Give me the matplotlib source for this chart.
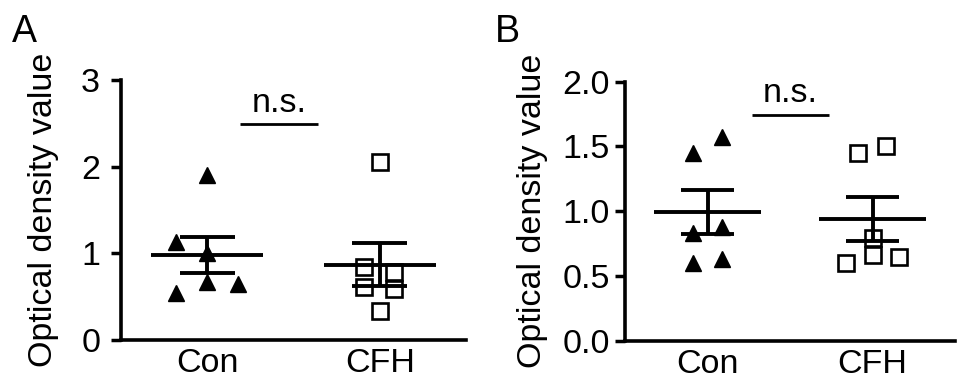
import numpy as np
import matplotlib
matplotlib.use("Agg")
import matplotlib.pyplot as plt

plt.rcParams['font.family'] = ['Liberation Sans', 'DejaVu Sans']

categories = ["Con", "CFH"]

# Panel A values
a_con = [1.90, 1.13, 1.00, 0.67, 0.65, 0.54]
a_cfh = [2.05, 0.84, 0.78, 0.61, 0.59, 0.33]
# Panel B values
b_con = [1.45, 1.57, 0.83, 0.88, 0.60, 0.63]
b_cfh = [1.45, 1.50, 0.79, 0.66, 0.60, 0.65]

# horizontal jitter of the points (as drawn)
a_con_jit = [0.0, -0.18, 0.0, 0.0, 0.18, -0.18]
a_cfh_jit = [0.0, -0.09, 0.08, -0.09, 0.08, 0.0]
b_con_jit = [-0.09, 0.09, -0.09, 0.09, -0.09, 0.09]
b_cfh_jit = [-0.085, 0.08, 0.0, 0.0, -0.16, 0.16]

a_yticks = [0, 1, 2, 3]
a_yticklabels = ["0", "1", "2", "3"]
b_yticks = [0.0, 0.5, 1.0, 1.5, 2.0]
b_yticklabels = ["0.0", "0.5", "1.0", "1.5", "2.0"]

fig = plt.figure(figsize=(9.69, 3.92), dpi=100)
axA = fig.add_axes([121/969, 52/392, 345/969, 260/392])
axB = fig.add_axes([625/969, 51.3/392, 330/969, 259/392])

FS = 24.5

def draw(ax, con, cfh, conj, cfhj, ylim, yticks, ytl, nsy, nsx0, nsx1, nstexty,
         ypad, lpad):
    groups = [(con, conj, '^', 'black'), (cfh, cfhj, 's', 'none')]
    for i, (vals, jit, mk, fc) in enumerate(groups):
        vals = np.array(vals)
        xs = i + np.array(jit)
        ax.plot(xs, vals, linestyle='none', marker=mk, markersize=12 if mk == '^' else 11,
                markerfacecolor=fc, markeredgecolor='black',
                markeredgewidth=1.0 if mk == '^' else 1.9, zorder=3, clip_on=False)
        m = vals.mean()
        sem = vals.std(ddof=1) / np.sqrt(len(vals))
        ax.hlines(m, i - 0.325, i + 0.325, color='black', lw=2.8, zorder=4)
        ax.vlines(i, m - sem, m + sem, color='black', lw=2.8, zorder=4)
        ax.hlines([m - sem, m + sem], i - 0.16, i + 0.16, color='black', lw=2.8, zorder=4)
    ax.hlines(nsy, nsx0, nsx1, color='black', lw=2.0)
    ax.text((nsx0 + nsx1) / 2, nstexty, "n.s.", ha='center', va='bottom', fontsize=FS)
    ax.set_xlim(-0.5, 1.5)
    ax.set_ylim(*ylim)
    ax.set_xticks([0, 1])
    ax.set_xticklabels(categories, fontsize=FS)
    ax.set_yticks(yticks)
    ax.set_yticklabels(ytl, fontsize=FS)
    ax.tick_params(axis='x', length=0, pad=6)
    ax.tick_params(axis='y', length=7, width=2.5, pad=ypad, direction='out')
    for s in ['top', 'right']:
        ax.spines[s].set_visible(False)
    for s in ['left', 'bottom']:
        ax.spines[s].set_linewidth(2.6)
    ax.set_ylabel("Optical density value", fontsize=FS, labelpad=lpad)

draw(axA, a_con, a_cfh, a_con_jit, a_cfh_jit, (0, 3), a_yticks, a_yticklabels,
     2.49, 0.19, 0.64, 2.55, 8, 16)
draw(axB, b_con, b_cfh, b_con_jit, b_cfh_jit, (0, 2), b_yticks, b_yticklabels,
     1.74, 0.27, 0.735, 1.79, 4, 10)

fig.text(12/969, 1 - 42/392, "A", fontsize=27, ha='left', va='baseline')
fig.text(495/969, 1 - 42/392, "B", fontsize=27, ha='left', va='baseline')

fig.savefig("out.png", dpi=100)
